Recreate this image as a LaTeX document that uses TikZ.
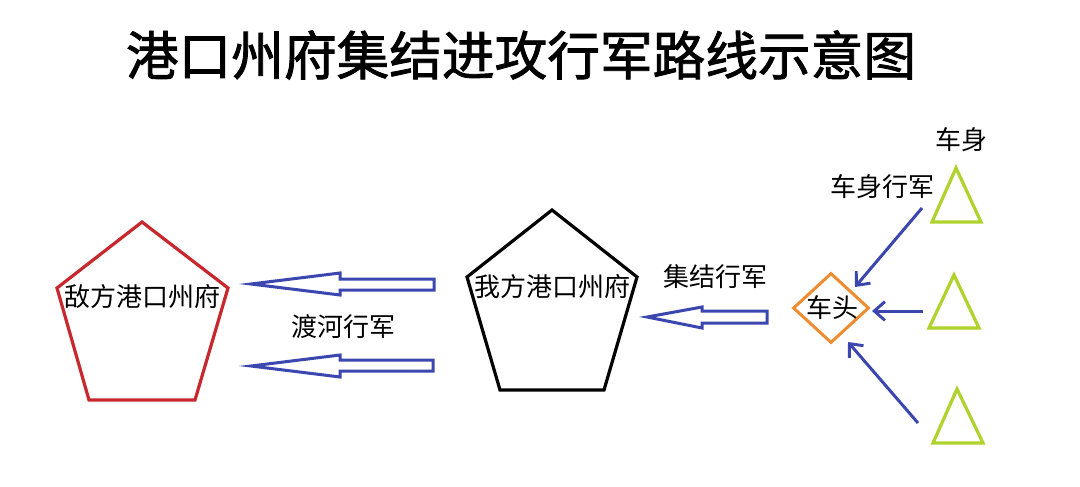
\documentclass[tikz,border=0pt]{standalone}
\usepackage{fontspec}
\newfontfamily\cjk{Noto Sans CJK SC}
\newfontfamily\cjktitle[FakeBold=1.6]{Noto Sans CJK SC}
\usetikzlibrary{arrows.meta,shapes.geometric}
\definecolor{redc}{RGB}{200,40,45}
\definecolor{bluec}{RGB}{60,70,175}
\definecolor{orangec}{RGB}{238,140,50}
\definecolor{greenc}{RGB}{175,210,45}
\tikzset{
  lbl/.style={font=\cjk\fontsize{19.5}{22}\selectfont, inner sep=0pt},
  hollow/.style={draw=bluec, line width=3pt*0.75, fill=white, line join=miter},
  flow/.style={draw=bluec, line width=3pt*0.75, -{Straight Barb[length=8pt,width=14pt,line width=2.2pt]}},
  tri/.style={draw=greenc, line width=3.2pt*0.75, line join=miter},
}
\begin{document}
\begin{tikzpicture}[x=0.75pt,y=-0.75pt]
\useasboundingbox[fill=white] (0,0) rectangle (1080,486);
% title
\node[font=\cjktitle\fontsize{39.5}{44}\selectfont, inner sep=0pt] (title) at (521,55) {港口州府集结进攻行军路线示意图};
% enemy pentagon
\draw[draw=redc, line width=3.2pt*0.75, line join=miter] (142,222) -- (228,288) -- (195,400) -- (89,400) -- (57,288) -- cycle;
\node[lbl] (enemy) at (142,297) {敌方港口州府};
% own pentagon
\draw[draw=black, line width=3.2pt*0.75, line join=miter] (552,210) -- (637,277) -- (604,390) -- (500,390) -- (467,277) -- cycle;
\node[lbl] (own) at (552,287) {我方港口州府};
% hollow arrows
\draw[hollow] (251,284) -- (340,273) -- (340,279) -- (434,279) -- (434,290) -- (340,290) -- (340,295) -- cycle;
\draw[hollow] (251,366) -- (340,355) -- (340,360) -- (433,360) -- (433,371) -- (340,371) -- (340,377) -- cycle;
\node[lbl] (ferry) at (343,327) {渡河行军};
\draw[hollow] (647,317) -- (702,307) -- (702,311) -- (767,311) -- (767,323) -- (702,323) -- (702,328) -- cycle;
\node[lbl] (gather) at (715,277) {集结行军};
% head diamond
\node[diamond, draw=orangec, line width=3pt*0.75, minimum width=76*0.75pt, minimum height=70*0.75pt, inner sep=0pt, aspect=1.1] (head) at (831,308) {};
\node[lbl] (headtxt) at (832,308) {车头};
% triangles
\draw[tri] (956,168) -- (981,222) -- (932,222) -- cycle;
\draw[tri] (954,275) -- (979,328) -- (929,328) -- cycle;
\draw[tri] (957,389) -- (983,443) -- (933,443) -- cycle;
\coordinate (s1) at (922,208);
\coordinate (s2) at (923,311);
\coordinate (s3) at (918,423);
\coordinate (e1) at (855,287);
\coordinate (e2) at (872,311);
\coordinate (e3) at (848,342);
\draw[flow] (s1) -- (e1);
\draw[flow] (s2) -- (e2);
\draw[flow] (s3) -- (e3);
\node[lbl] (body) at (961,140) {车身};
\node[lbl] (bodymarch) at (882,187) {车身行军};
\end{tikzpicture}
\end{document}
